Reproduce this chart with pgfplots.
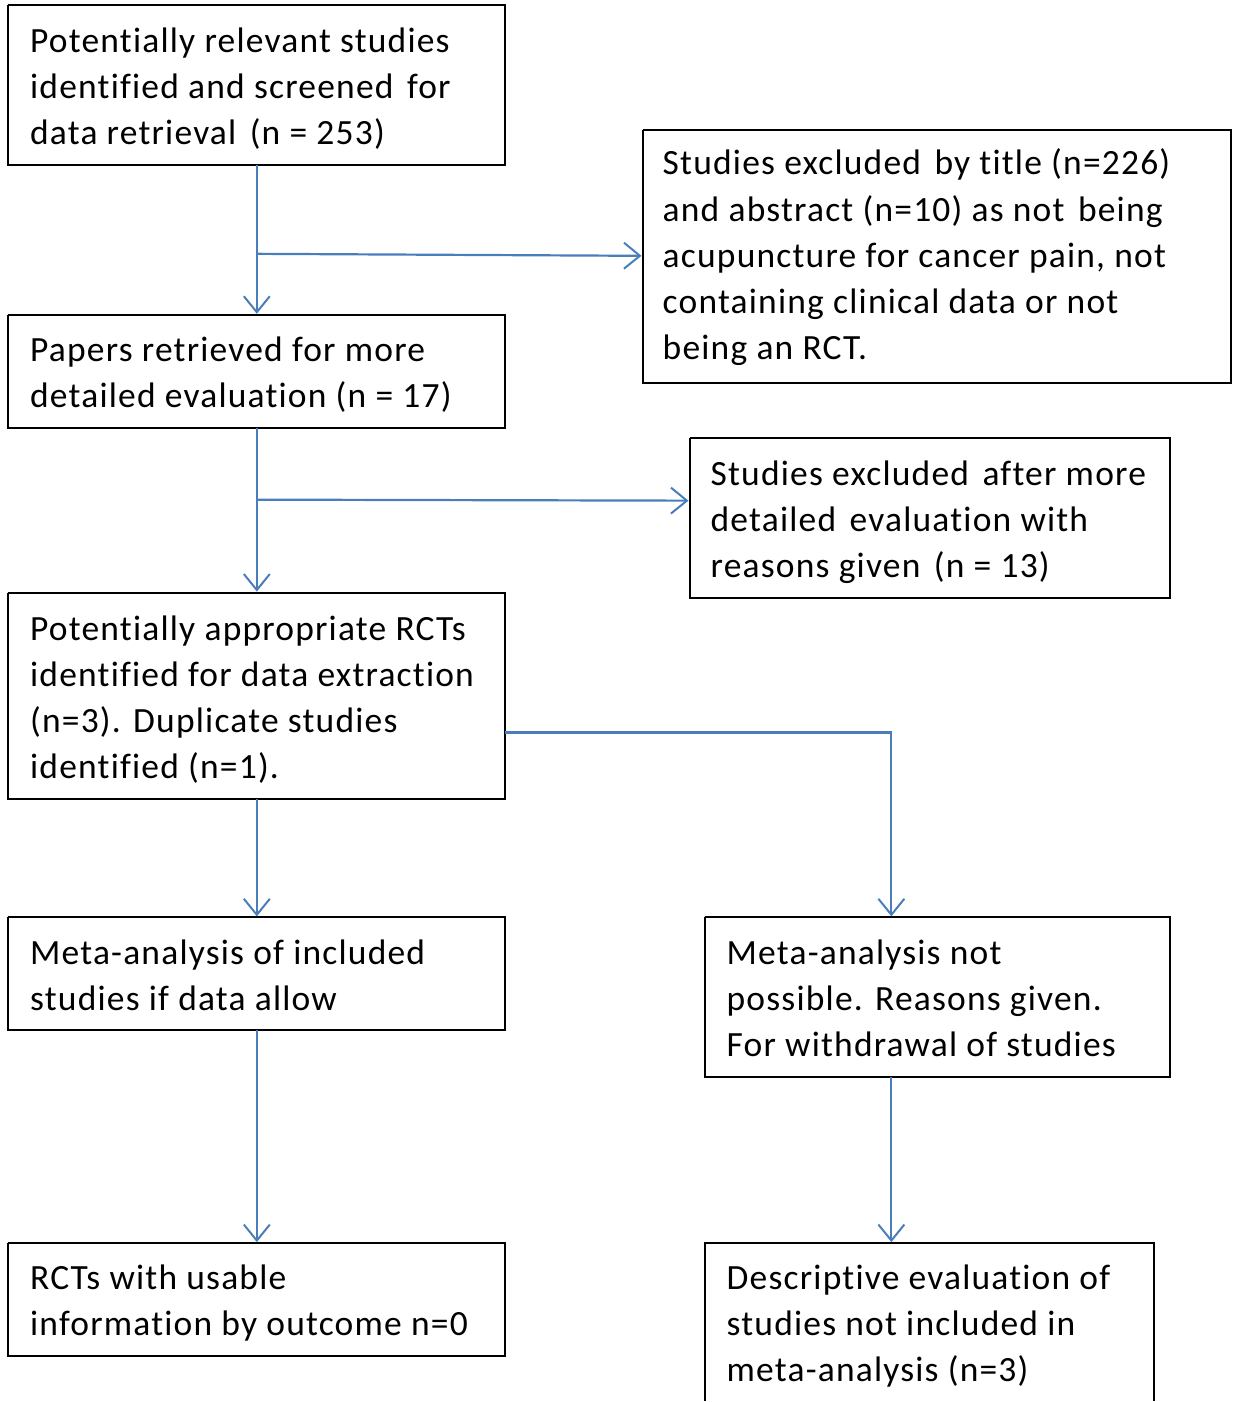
\documentclass[border=0pt]{standalone}
\usepackage{fontspec}
\setmainfont{Carlito}[Ligatures={NoCommon}, LetterSpace=3.4]
\usepackage{pgfplots}
\pgfplotsset{compat=1.18}
\usetikzlibrary{arrows.meta}
\definecolor{arr}{HTML}{4A7EBB}
\newcommand{\xs}{\hspace{0.12em}}
\tikzset{
  box/.style={black, line width=2pt},
  ar/.style={arr, line width=2.2pt, -{Straight Barb[length=16pt,width=26pt,line width=2pt]}},
  tl/.style={anchor=base west, inner sep=0pt, font=\fontsize{35.5}{46}\selectfont}}
\begin{document}
\begin{tikzpicture}
\begin{axis}[scale only axis, width=1233pt, height=1402pt, hide axis,
  xmin=0, xmax=1233, ymin=0, ymax=1402, y dir=reverse, clip=false]
\path (axis cs:0,0) rectangle (axis cs:1233,1402);
% boxes
\addplot[box, no marks] coordinates {(8,5) (505,5) (505,165) (8,165) (8,5)};
\addplot[box, no marks] coordinates {(643,130) (1232,130) (1232,383) (643,383) (643,130)};
\addplot[box, no marks] coordinates {(8,315) (505,315) (505,428) (8,428) (8,315)};
\addplot[box, no marks] coordinates {(690,438) (1171,438) (1171,598) (690,598) (690,438)};
\addplot[box, no marks] coordinates {(8,593) (505,593) (505,800) (8,800) (8,593)};
\addplot[box, no marks] coordinates {(8,918) (505,918) (505,1031) (8,1031) (8,918)};
\addplot[box, no marks] coordinates {(705,918) (1171,918) (1171,1078) (705,1078) (705,918)};
\addplot[box, no marks] coordinates {(8,1244) (505,1244) (505,1357) (8,1357) (8,1244)};
\addplot[box, no marks] coordinates {(705,1402) (705,1244) (1155,1244) (1155,1402)};
% arrows
\addplot[ar, no marks] coordinates {(257,165) (257,314)};
\addplot[ar, no marks] coordinates {(257,254) (642,256)};
\addplot[ar, no marks] coordinates {(257,428) (257,592)};
\addplot[ar, no marks] coordinates {(257,500) (689,501)};
\addplot[ar, no marks] coordinates {(257,800) (257,917)};
\addplot[ar, no marks] coordinates {(505,733) (892,733) (892,917)};
\addplot[ar, no marks] coordinates {(257,1031) (257,1243)};
\addplot[ar, no marks] coordinates {(892,1078) (892,1243)};
% texts
\node[tl] at (axis cs:30,53) {Potentially relevant studies};
\node[tl] at (axis cs:30,99) {identified and screened\xs{} for};
\node[tl] at (axis cs:30,145) {data retrieval\xs{} (n = 253)};
\node[tl] at (axis cs:663,175) {Studies excluded\xs{} by title (n=226)};
\node[tl] at (axis cs:663,222) {and abstract (n=10) as not\xs{} being};
\node[tl] at (axis cs:663,268) {acupuncture for cancer pain, not};
\node[tl] at (axis cs:663,314) {containing clinical data or not};
\node[tl] at (axis cs:663,360) {being an RCT.};
\node[tl] at (axis cs:30,362) {Papers retrieved for more};
\node[tl] at (axis cs:30,408) {detailed evaluation (n = 17)};
\node[tl] at (axis cs:711,486) {Studies excluded\xs{} after more};
\node[tl] at (axis cs:711,532) {detailed\xs{} evaluation with};
\node[tl] at (axis cs:711,578) {reasons given\xs{} (n = 13)};
\node[tl] at (axis cs:30,641) {Potentially appropriate RCTs};
\node[tl] at (axis cs:30,687) {identified for data extraction};
\node[tl] at (axis cs:30,733) {(n=3). Duplicate studies};
\node[tl] at (axis cs:30,779) {identified (n=1).};
\node[tl] at (axis cs:30,965) {Meta-analysis of included};
\node[tl] at (axis cs:30,1011) {studies if data allow};
\node[tl] at (axis cs:727,965) {Meta-analysis not};
\node[tl] at (axis cs:727,1011) {possible. Reasons given.};
\node[tl] at (axis cs:727,1057) {For withdrawal of studies};
\node[tl] at (axis cs:30,1290) {RCTs with usable};
\node[tl] at (axis cs:30,1336) {information by outcome n=0};
\node[tl] at (axis cs:727,1290) {Descriptive evaluation of};
\node[tl] at (axis cs:727,1336) {studies not included in};
\node[tl] at (axis cs:727,1382) {meta-analysis (n=3)};
\end{axis}
\end{tikzpicture}
\end{document}
